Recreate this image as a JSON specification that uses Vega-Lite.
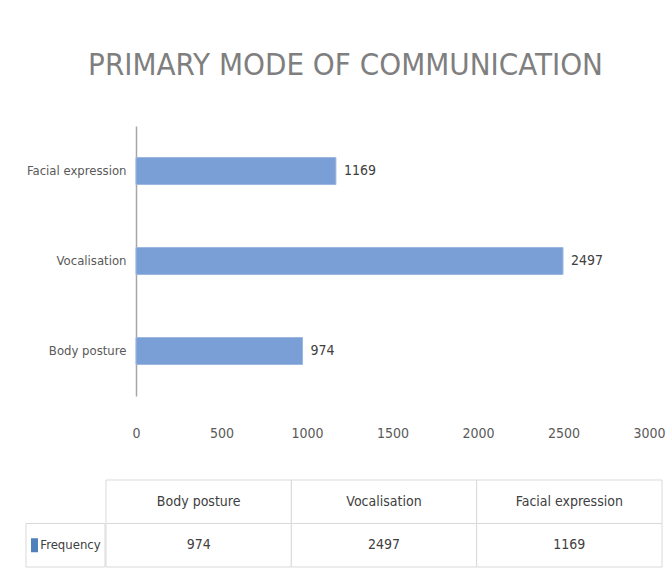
{
  "$schema": "https://vega.github.io/schema/vega-lite/v6.json",
  "background": "white",
  "padding": {"left": 25, "top": 50, "right": 5, "bottom": 5},
  "bounds": "full",
  "spacing": 39,
  "datasets": {
    "modes": [
      {"mode": "Body posture", "frequency": 974},
      {"mode": "Vocalisation", "frequency": 2497},
      {"mode": "Facial expression", "frequency": 1169}
    ]
  },
  "config": {
    "view": {"stroke": null},
    "font": "DejaVu Sans Condensed, Roboto Condensed, Liberation Sans Narrow, sans-serif",
    "axis": {"labelFont": "DejaVu Sans Condensed, Roboto Condensed, Liberation Sans Narrow, sans-serif", "labelColor": "#595959"}
  },
  "vconcat": [
    {
      "width": 623,
      "height": 270,
      "data": {"name": "modes"},
      "title": {
        "text": "PRIMARY MODE OF COMMUNICATION",
        "font": "DejaVu Sans Condensed, Roboto Condensed, Liberation Sans Narrow, sans-serif",
        "fontSize": 31,
        "fontWeight": "normal",
        "color": "#7F7F7F",
        "anchor": "middle",
        "frame": "bounds",
        "offset": 44
      },
      "encoding": {
        "y": {
          "field": "mode",
          "type": "nominal",
          "sort": ["Facial expression", "Vocalisation", "Body posture"],
          "scale": {"paddingInner": 0.7, "paddingOuter": 0.35},
          "axis": {
            "title": null,
            "ticks": false,
            "labelFontSize": 13,
            "labelPadding": 10,
            "offset": -110,
            "domainColor": "#A6A6A6",
            "domainWidth": 1.5
          }
        },
        "x": {
          "field": "frequency",
          "type": "quantitative",
          "scale": {"domain": [0, 3000], "nice": false, "range": [110, 623]},
          "axis": {
            "title": null,
            "values": [0, 500, 1000, 1500, 2000, 2500, 3000],
            "format": "d",
            "grid": false,
            "domain": false,
            "ticks": false,
            "labelFontSize": 14,
            "labelPadding": 30,
            "labelFlush": false
          }
        }
      },
      "layer": [
        {"mark": {"type": "bar", "color": "#7A9ED6", "stroke": "#9CB7E0", "strokeWidth": 1}},
        {
          "mark": {"type": "text", "align": "left", "dx": 8, "fontSize": 14, "color": "#404040"},
          "encoding": {"text": {"field": "frequency", "type": "quantitative"}}
        }
      ]
    },
    {
      "spacing": -2,
      "hconcat": [
        {
          "width": 79,
          "height": 87,
          "data": {"values": [{"series": "Frequency"}]},
          "encoding": {
            "y": {"datum": "v", "type": "nominal", "scale": {"domain": ["h", "v"], "paddingInner": 0, "paddingOuter": 0}, "axis": null},
            "x": {"field": "series", "type": "nominal", "scale": {"paddingInner": 0, "paddingOuter": 0}, "axis": null}
          },
          "layer": [
            {"mark": {"type": "rect", "fill": "white", "stroke": "#D9D9D9", "strokeWidth": 1}},
            {"mark": {"type": "point", "shape": "M-0.5,-1L0.5,-1L0.5,1L-0.5,1Z", "size": 196, "filled": true, "color": "#4F81BD", "opacity": 1, "xOffset": -31}},
            {"mark": {"type": "text", "fontSize": 13, "color": "#404040", "dx": 5}, "encoding": {"text": {"field": "series"}}}
          ]
        },
        {
          "width": 556,
          "height": 87,
          "data": {"name": "modes"},
          "encoding": {
            "x": {"field": "mode", "type": "nominal", "sort": ["Body posture", "Vocalisation", "Facial expression"], "scale": {"paddingInner": 0, "paddingOuter": 0}, "axis": null}
          },
          "layer": [
            {
              "mark": {"type": "rect", "fill": "white", "stroke": "#D9D9D9", "strokeWidth": 1},
              "encoding": {"y": {"datum": "h", "type": "nominal", "scale": {"domain": ["h", "v"], "paddingInner": 0, "paddingOuter": 0}, "axis": null}}
            },
            {
              "mark": {"type": "rect", "fill": "white", "stroke": "#D9D9D9", "strokeWidth": 1},
              "encoding": {"y": {"datum": "v", "type": "nominal"}}
            },
            {
              "mark": {"type": "text", "fontSize": 14, "color": "#404040"},
              "encoding": {"y": {"datum": "h", "type": "nominal"}, "text": {"field": "mode"}}
            },
            {
              "mark": {"type": "text", "fontSize": 14, "color": "#404040"},
              "encoding": {"y": {"datum": "v", "type": "nominal"}, "text": {"field": "frequency", "type": "quantitative"}}
            }
          ]
        }
      ]
    }
  ]
}
